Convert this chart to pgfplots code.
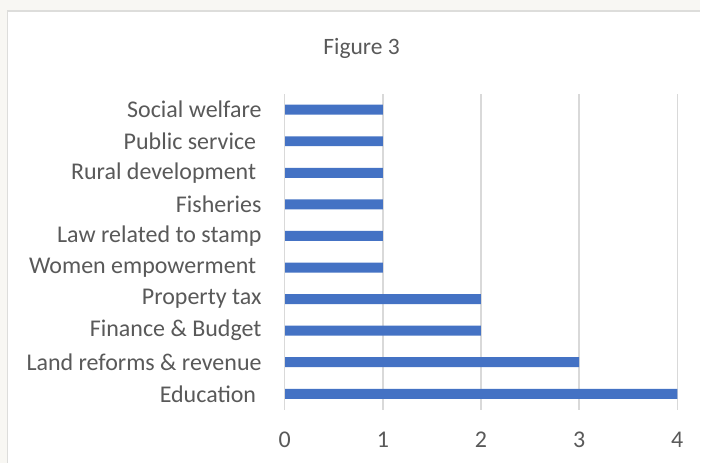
\documentclass[border=0pt]{standalone}
\usepackage{fontspec}
\setmainfont{Carlito}
\usepackage{pgfplots}
\pgfplotsset{compat=1.18}
\definecolor{barblue}{HTML}{4472C4}
\definecolor{txtgray}{HTML}{595959}
\definecolor{gridgray}{HTML}{D9D9D9}
\definecolor{cream}{HTML}{F8F7F3}
\definecolor{bordergray}{HTML}{DDDDDB}
\begin{document}
\begin{tikzpicture}
\fill[cream] (0pt,0pt) rectangle (701pt,463pt);
\fill[white] (7.5pt,0pt) rectangle (701pt,452pt);
\draw[bordergray, line width=1.5pt] (7.5pt,0pt) -- (7.5pt,452pt) -- (701pt,452pt);
\node[txtgray, font=\fontsize{23.5}{27}\selectfont] at (362pt,415pt) {Figure 3};
\begin{axis}[
  at={(285pt,53pt)}, anchor=south west,
  scale only axis, width=393pt, height=316pt,
  xbar, bar width=10pt,
  xmin=0, xmax=4, ymin=-0.5, ymax=9.5,
  xtick={0,1,2,3,4},
  ytick={0,...,9},
  yticklabels={Education\rule{5.4pt}{0pt}, Land reforms \& revenue, Finance \& Budget, Property tax, Women empowerment\rule{5.4pt}{0pt}, Law related to stamp, Fisheries, Rural development\rule{5.4pt}{0pt}, Public service\rule{5.4pt}{0pt}, Social welfare},
  major tick length=0pt,
  xmajorgrids, grid style={gridgray, line width=1.5pt},
  axis line style={draw=none},
  every tick label/.append style={txtgray, font=\fontsize{24}{28}\selectfont, inner sep=0pt},
  yticklabel style={anchor=east, xshift=-23pt},
  xticklabel style={anchor=north, yshift=-22pt},
  /pgf/number format/assume math mode=true,
  clip=false,
]
\addplot[draw=none, fill=barblue] coordinates {(4,0) (3,1) (2,2) (2,3) (1,4) (1,5) (1,6) (1,7) (1,8) (1,9)};
\draw[gridgray, line width=1.5pt] (axis cs:0,-0.5) -- (axis cs:0,9.5);
\end{axis}
\end{tikzpicture}
\end{document}
